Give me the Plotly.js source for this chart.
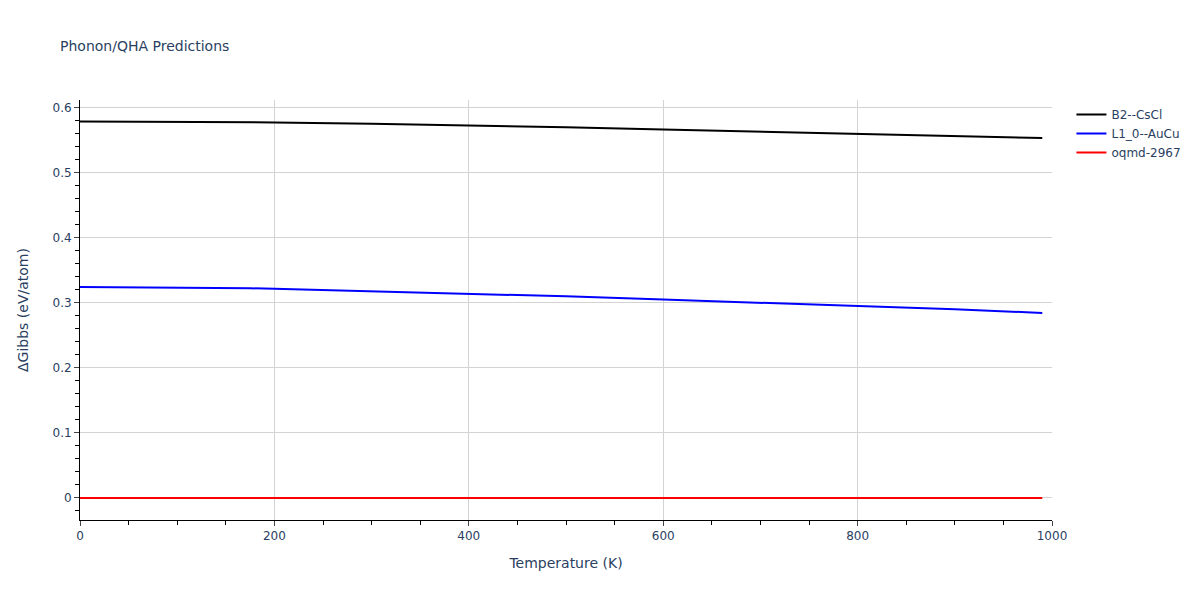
<!DOCTYPE html>
<html>
<head>
<meta charset="utf-8">
<script src="https://cdn.plot.ly/plotly-3.0.1.min.js"></script>
<style>body{margin:0;padding:0;}#chart{width:1200px;height:600px;}</style>
</head>
<body>
<div id="chart"></div>
<script>
var temps = [0, 50, 100, 150, 175, 200, 300, 380, 400, 500, 600, 700, 800, 900, 990];
var b2CsCl = [0.5790, 0.5788, 0.5785, 0.5782, 0.5780, 0.5775, 0.5755, 0.5735, 0.5730, 0.5700, 0.5665, 0.5632, 0.5598, 0.5565, 0.5535];
var l10AuCu = [0.3245, 0.3242, 0.3239, 0.3235, 0.3225, 0.3215, 0.3180, 0.3150, 0.3142, 0.3100, 0.3052, 0.3005, 0.2955, 0.2900, 0.2845];
var oqmd2967 = [0, 0, 0, 0, 0, 0, 0, 0, 0, 0, 0, 0, 0, 0, 0];
var names = ["B2--CsCl", "L1_0--AuCu", "oqmd-2967"];
var colors = ["black", "blue", "red"];
var series = [b2CsCl, l10AuCu, oqmd2967];

var traces = series.map(function(s, i){
  return {x: temps, y: s, type: 'scatter', mode: 'lines', name: names[i], line: {color: colors[i], width: 2}};
});

var layout = {
  width: 1200, height: 600,
  font: {family: 'DejaVu Sans, Verdana, sans-serif', color: '#2a3f5f'},
  title: {text: 'Phonon/QHA Predictions', x: 0.05, xanchor: 'left', y: 0.932, font: {size: 14}},
  margin: {l: 80, r: 148, t: 100, b: 80},
  paper_bgcolor: 'white', plot_bgcolor: 'white',
  xaxis: {
    title: {text: 'Temperature (K)', standoff: 15},
    range: [0, 1000], showline: true, linecolor: 'black', linewidth: 1,
    ticks: 'outside', showgrid: true, gridcolor: '#d3d3d3', zeroline: false,
    dtick: 200,
    minor: {ticks: 'outside', dtick: 50, ticklen: 4, tickcolor: 'black', showgrid: false}
  },
  yaxis: {
    title: {text: 'ΔGibbs (eV/atom)', standoff: 20},
    range: [-0.034, 0.612], showline: true, linecolor: 'black', linewidth: 1,
    ticks: 'outside', showgrid: true, gridcolor: '#d3d3d3', zeroline: false,
    dtick: 0.1,
    minor: {ticks: 'outside', dtick: 0.02, ticklen: 4, tickcolor: 'black', showgrid: false}
  },
  legend: {x: 1.02, y: 1, xanchor: 'left', yanchor: 'top'},
  showlegend: true
};

Plotly.newPlot('chart', traces, layout, {displayModeBar: false});
</script>
</body>
</html>
